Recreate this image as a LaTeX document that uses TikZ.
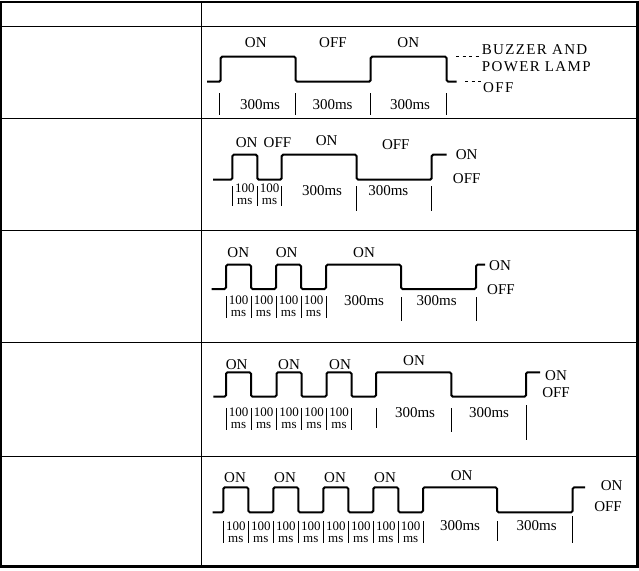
\documentclass[tikz,border=0pt]{standalone}
\usepackage{fontspec}
\setmainfont{Liberation Serif}
\newfontfamily\wideFont[LetterSpace=9]{Liberation Serif}

\begin{document}
\begin{tikzpicture}[x=1pt, y=-1pt,
    tableRule/.style={line width=1.1pt},
    wave/.style={line width=2pt, rounded corners=1.5pt},
    tick/.style={line width=0.8pt},
    stateLabel/.style={inner sep=0pt, font=\fontsize{15}{15}\selectfont},
    spanLabel/.style={inner sep=0pt, font=\fontsize{15}{15}\selectfont},
    shortLabel/.style={inner sep=0pt, align=center, font=\fontsize{13}{11.5}\selectfont},
    sideLabel/.style={inner sep=0pt, font=\fontsize{15}{15}\selectfont},
    lampLabel/.style={inner sep=0pt, anchor=west, font=\wideFont\fontsize{15}{15}\selectfont}]

    \useasboundingbox (0,0) rectangle (639,570);

    % Draw table frame
    \draw[line width=2pt] (1,1.5) rectangle (637.3,566.5);
    \draw[line width=3.5pt] (637.3,0.5) -- (637.3,568);
    \draw[line width=3pt] (0,566.5) -- (639,566.5);
    \draw[tableRule] (201.7,1.5) -- (201.7,566.5);
    \foreach \y in {26.7,118.3,230.7,342.7,456.7}
        \draw[tableRule] (1,\y) -- (637.3,\y);

    % Row 1: buzzer and power lamp
    \draw[wave] (207,81.7) -| (220.7,56.7) -| (295.7,81.7) -| (370.7,56.7) -| (446.7,81.7) -- (456.7,81.7);
    \foreach \x in {219,295.7,370.7,446.7}
        \draw[tick] (\x,93) -- (\x,115);
    \node[stateLabel] (on1a) at (255.8,43) {ON};
    \node[stateLabel] (off1a) at (333,43) {OFF};
    \node[stateLabel] (on1b) at (408.3,43) {ON};
    \foreach \x [count=\i] in {260,332.5,410}
        \node[spanLabel] (span1-\i) at (\x,105) {300ms};
    \node[lampLabel] (lamp1) at (481.7,50) {BUZZER AND};
    \node[lampLabel] (lamp2) at (481.7,66.7) {POWER LAMP};
    \node[lampLabel] (lampOff) at (483,88) {OFF};
    \draw[tick, dash pattern=on 3pt off 3.5pt] (456,56.7) -- (lamp1.west |- 0,56.7);
    \draw[tick, dash pattern=on 3pt off 3.5pt] (465,81.7) -- (lampOff.west |- 0,81.7);

    % Row 2
    \draw[wave] (213,179.7) -| (232.3,154.7) -| (257.3,179.7) -| (281.7,154.7) -| (356.7,179.7) -| (431.7,154.7) -- (446.7,154.7);
    \foreach \x in {232.3,257.3,281.7}
        \draw[tick] (\x,186) -- (\x,206);
    \foreach \x in {356.7,431.7}
        \draw[tick] (\x,186) -- (\x,211);
    \node[stateLabel] (on2a) at (246.7,143) {ON};
    \node[stateLabel] (off2a) at (277.5,143) {OFF};
    \node[stateLabel] (on2b) at (326.7,141) {ON};
    \node[stateLabel] (off2b) at (395.8,144.7) {OFF};
    \foreach \x [count=\i] in {244.8,269.5}
        \node[shortLabel] (short2-\i) at (\x,194) {100\\ms};
    \foreach \x [count=\i] in {322,388.3}
        \node[spanLabel] (span2-\i) at (\x,190.5) {300ms};
    \node[sideLabel] (on2) at (466.7,154.7) {ON};
    \node[sideLabel] (off2) at (466.7,179) {OFF};

    % Row 3
    \draw[wave] (211.7,289) -| (226,264.7) -| (251,289) -| (276,264.7) -| (301,289) -| (326,264.7) -| (401,289) -| (476,264.7) -- (485,264.7);
    \foreach \x in {226,251,276,301,326}
        \draw[tick] (\x,296) -- (\x,318);
    \foreach \x in {401,476}
        \draw[tick] (\x,297) -- (\x,321);
    \foreach \x [count=\i] in {238.3,286.7,364}
        \node[stateLabel] (on3-\i) at (\x,253) {ON};
    \foreach \x [count=\i] in {238.5,263.5,288.5,313.5}
        \node[shortLabel] (short3-\i) at (\x,306) {100\\ms};
    \foreach \x [count=\i] in {364,436.7}
        \node[spanLabel] (span3-\i) at (\x,300.5) {300ms};
    \node[sideLabel] (on3) at (500,266) {ON};
    \node[sideLabel] (off3) at (501,289.7) {OFF};

    % Row 4
    \draw[wave] (213.3,396.7) -| (226,372.3) -| (251,396.7) -| (276.5,372.3) -| (301.5,396.7) -| (326.5,372.3) -| (351.5,396.7) -| (376,372.3) -| (451.3,396.7) -| (526,372.3) -- (540,372.3);
    \foreach \x in {226,251,276.5,301.5,326.5,351.5}
        \draw[tick] (\x,408) -- (\x,430);
    \draw[tick] (376,408) -- (376,428);
    \draw[tick] (451.3,408) -- (451.3,432);
    \draw[tick] (526,405) -- (526,440);
    \node[stateLabel] (on4-1) at (236.7,364.5) {ON};
    \node[stateLabel] (on4-2) at (289,365) {ON};
    \node[stateLabel] (on4-3) at (340,365) {ON};
    \node[stateLabel] (on4-4) at (414,360.5) {ON};
    \foreach \x [count=\i] in {238.5,263.7,289,314,339}
        \node[shortLabel] (short4-\i) at (\x,418) {100\\ms};
    \foreach \x [count=\i] in {415,489}
        \node[spanLabel] (span4-\i) at (\x,413) {300ms};
    \node[sideLabel] (on4) at (556,375.5) {ON};
    \node[sideLabel] (off4) at (556,392.5) {OFF};

    % Row 5
    \draw[wave] (212.7,512.3) -| (223.3,487.3) -| (248.3,512.3) -| (273.3,487.3) -| (298.3,512.3) -| (323.3,487.3) -| (348.3,512.3) -| (373.3,487.3) -| (398.3,512.3) -| (423,487.3) -| (497,512.3) -| (572.7,487.3) -- (585,487.3);
    \foreach \x in {223.3,248.3,273.3,298.3,323.3,348.3,373.3,398.3,423}
        \draw[tick] (\x,521) -- (\x,543);
    \draw[tick] (497,521) -- (497,541);
    \draw[tick] (572.7,516) -- (572.7,543);
    \foreach \x [count=\i] in {235,285,335,385}
        \node[stateLabel] (on5-\i) at (\x,478) {ON};
    \node[stateLabel] (on5-5) at (461.7,476) {ON};
    \foreach \x [count=\i] in {235.8,260.8,285.8,310.8,335.8,360.8,385.8,410.7}
        \node[shortLabel] (short5-\i) at (\x,532) {100\\ms};
    \foreach \x [count=\i] in {460,536.7}
        \node[spanLabel] (span5-\i) at (\x,525.5) {300ms};
    \node[sideLabel] (on5) at (611.7,486) {ON};
    \node[sideLabel] (off5) at (608,507) {OFF};

\end{tikzpicture}
\end{document}
